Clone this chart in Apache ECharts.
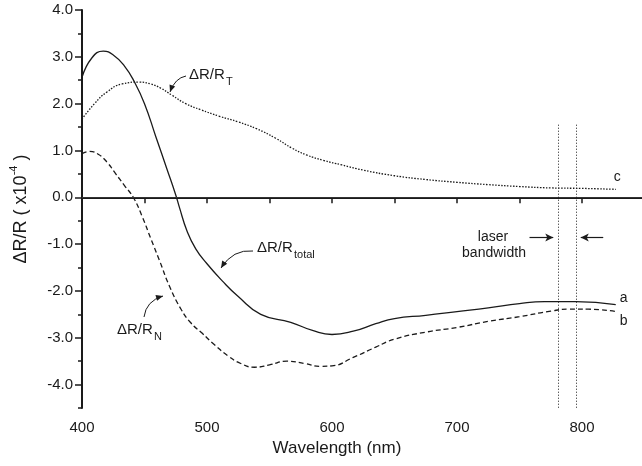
<!DOCTYPE html>
<html>
<head>
<meta charset="utf-8">
<script src="https://cdn.jsdelivr.net/npm/echarts@6/dist/echarts.min.js"></script>
<style>
    html, body { margin: 0; padding: 0; background: #fff; }
    #chart { width: 642px; height: 466px; }
</style>
</head>
<body>
<div id="chart"></div>
<script>
/* ΔR/R spectra, three curves + laser bandwidth marker */

// curve a: ΔR/R_total (solid)
const totalNm  = [400, 408, 417, 425, 434, 442, 450, 459, 468, 475, 478, 484, 491, 500, 512, 525, 543, 567, 585, 600, 617, 635, 650, 675, 700, 725, 750, 770, 795, 827];
const totalVal = [2.56, 2.98, 3.12, 3.04, 2.8, 2.46, 2.0, 1.3, 0.6, 0.05, -0.22, -0.72, -1.1, -1.42, -1.78, -2.12, -2.5, -2.67, -2.85, -2.93, -2.86, -2.7, -2.59, -2.52, -2.44, -2.36, -2.27, -2.23, -2.23, -2.29];

// curve b: ΔR/R_N (dashed)
const normalNm  = [400, 406, 413, 420, 427, 434, 441, 448, 455, 462, 470, 479, 487, 496, 506, 517, 527, 538, 550, 564, 578, 591, 600, 617, 635, 650, 675, 700, 725, 750, 775, 790, 805, 827];
const normalVal = [0.93, 0.98, 0.92, 0.75, 0.5, 0.25, 0.0, -0.4, -0.88, -1.35, -1.9, -2.38, -2.68, -2.9, -3.15, -3.39, -3.55, -3.63, -3.58, -3.5, -3.55, -3.61, -3.6, -3.42, -3.2, -3.03, -2.88, -2.78, -2.65, -2.55, -2.43, -2.39, -2.39, -2.44];

// curve c: ΔR/R_T (dotted)
const thermNm  = [400, 410, 420, 432, 446, 455, 463, 472, 483, 495, 510, 525, 540, 555, 568, 580, 593, 608, 625, 650, 675, 700, 725, 750, 775, 800, 827];
const thermVal = [1.67, 2.0, 2.25, 2.42, 2.46, 2.42, 2.33, 2.18, 2.0, 1.87, 1.73, 1.61, 1.46, 1.26, 1.05, 0.9, 0.79, 0.69, 0.58, 0.46, 0.38, 0.32, 0.27, 0.23, 0.2, 0.19, 0.17];

// laser bandwidth edges (nm) and top of the marker lines
const laserEdges = [781, 795];
const laserTop = 1.55;

// axis ticks
const xMajor = [400, 500, 600, 700, 800];
const yMajor = [-4, -3, -2, -1, 0, 1, 2, 3, 4];
const yMinor = [-4.5, -3.5, -2.5, -1.5, -0.5, 0.5, 1.5, 2.5, 3.5];

const INK = "#1a1a1a";
const FONT = "Liberation Sans, Arial, sans-serif";

function pairs(xs, ys) {
    return xs.map((x, i) => [x, ys[i]]);
}

function arrowHead(tx, ty, fx, fy, len, half) {
    const dx = tx - fx, dy = ty - fy;
    const d = Math.sqrt(dx * dx + dy * dy);
    const ux = dx / d, uy = dy / d;
    const bx = tx - ux * len, by = ty - uy * len;
    return {
        type: "polygon",
        shape: { points: [[tx, ty], [bx - uy * half, by + ux * half], [bx + uy * half, by - ux * half]] },
        style: { fill: INK }
    };
}

function curvedArrow(x1, y1, cx, cy, x2, y2) {
    return [
        { type: "bezierCurve", shape: { x1: x1, y1: y1, x2: x2, y2: y2, cpx1: cx, cpy1: cy }, style: { stroke: INK, lineWidth: 1, fill: null } },
        arrowHead(x2, y2, cx, cy, 7, 3)
    ];
}

function labelText(x, y, main, sub, subDx, subDy) {
    return [
        { type: "text", x: x, y: y, style: { text: main, font: "15px " + FONT, fill: INK, verticalAlign: "middle" } },
        { type: "text", x: x + subDx, y: y + subDy, style: { text: sub, font: "11px " + FONT, fill: INK, verticalAlign: "middle" } }
    ];
}

const chart = echarts.init(document.getElementById("chart"));

const endLabel = (txt, off) => ({
    show: true, formatter: txt, color: INK, fontSize: 14, fontFamily: FONT, distance: 4, offset: off
});

chart.setOption({
    animation: false,
    grid: { left: 75, right: 0, top: 10, bottom: 58 },
    xAxis: [{
        type: "value", min: 400, max: 848, interval: 50,
        name: "Wavelength (nm)", nameLocation: "middle", nameGap: 30,
        nameTextStyle: { fontSize: 17, color: INK, fontFamily: FONT, padding: [0, 50, 0, 0] },
        axisLine: { lineStyle: { color: INK, width: 2 } },
        axisTick: { inside: false, length: 6, lineStyle: { color: INK, width: 1.5 } },
        axisLabel: {
            color: INK, fontSize: 15, fontFamily: FONT, margin: 12, showMaxLabel: false,
            formatter: v => (xMajor.indexOf(v) >= 0 ? String(v) : "")
        },
        splitLine: { show: false }
    }, {
        type: "value", min: 400, max: 848, position: "top",
        axisLine: { lineStyle: { color: INK, width: 2 } },
        axisTick: { show: false }, axisLabel: { show: false }, splitLine: { show: false }
    }],
    yAxis: [{
        type: "value", min: -4.5, max: 4,
        name: "{a|ΔR/R ( x10}{s|-4}{a| )}", nameLocation: "middle", nameGap: 52,
        nameTextStyle: {
            rich: {
                a: { fontSize: 18, color: INK, fontFamily: FONT, lineHeight: 22, verticalAlign: "bottom" },
                s: { fontSize: 11, color: INK, fontFamily: FONT, lineHeight: 22, verticalAlign: "top" }
            }
        },
        axisLine: { lineStyle: { color: INK, width: 2 } },
        axisTick: { length: 7, customValues: yMajor, lineStyle: { color: INK, width: 1.5 } },
        axisLabel: { color: INK, fontSize: 15, fontFamily: FONT, margin: 9, customValues: yMajor, formatter: v => v.toFixed(1) },
        splitLine: { show: false }
    }, {
        type: "value", min: -4.5, max: 4, position: "left",
        axisLine: { show: false },
        axisTick: { length: 4, customValues: yMinor, lineStyle: { color: INK, width: 1.5 } },
        axisLabel: { show: false }, splitLine: { show: false }
    }],
    series: [{
        type: "line", name: "a", data: pairs(totalNm, totalVal), smooth: 0.5,
        symbol: "none", lineStyle: { color: INK, width: 1.3, type: "solid" },
        endLabel: endLabel("a", [0, -6]),
        markLine: {
            silent: true, symbol: "none", label: { show: false },
            lineStyle: { color: "#333", width: 1, type: "solid" },
            data: [{ yAxis: 0 }]
        }
    }, {
        type: "line", name: "b", data: pairs(normalNm, normalVal), smooth: 0.5,
        symbol: "none", lineStyle: { color: INK, width: 1.3, type: [5, 3] },
        endLabel: endLabel("b", [0, 10])
    }, {
        type: "line", name: "c", data: pairs(thermNm, thermVal), smooth: 0.5,
        symbol: "none", lineStyle: { color: INK, width: 1.3, type: [1.5, 1.5] },
        endLabel: endLabel("c", [-6, -12]),
        markLine: {
            silent: true, label: { show: false },
            data: [
                ...laserEdges.map(x => [
                    { coord: [x, laserTop], symbol: "none", lineStyle: { color: INK, width: 1, type: [1, 2] } },
                    { coord: [x, -4.5], symbol: "none" }
                ]),
                [{ coord: [758, -0.86], symbol: "none", lineStyle: { color: INK, width: 1.2, type: "solid" } },
                 { coord: [777, -0.86], symbol: "arrow", symbolSize: [6, 8] }],
                [{ coord: [817, -0.86], symbol: "none", lineStyle: { color: INK, width: 1.2, type: "solid" } },
                 { coord: [799, -0.86], symbol: "arrow", symbolSize: [6, 8] }]
            ]
        }
    }],
    graphic: [
        { type: "text", x: 493, y: 237, style: { text: "laser", font: "14px " + FONT, fill: INK, align: "center", verticalAlign: "middle" } },
        { type: "text", x: 494, y: 253, style: { text: "bandwidth", font: "14px " + FONT, fill: INK, align: "center", verticalAlign: "middle" } },
        ...labelText(189, 75, "ΔR/R", "T", 37, 7),
        ...curvedArrow(186, 76, 175, 78, 170, 92),
        ...labelText(257, 248, "ΔR/R", "total", 37, 7),
        ...curvedArrow(253, 251, 233, 249, 221, 268),
        ...labelText(117, 330, "ΔR/R", "N", 37, 7),
        ...curvedArrow(144, 317, 146, 301, 163, 296)
    ]
});
</script>
</body>
</html>
